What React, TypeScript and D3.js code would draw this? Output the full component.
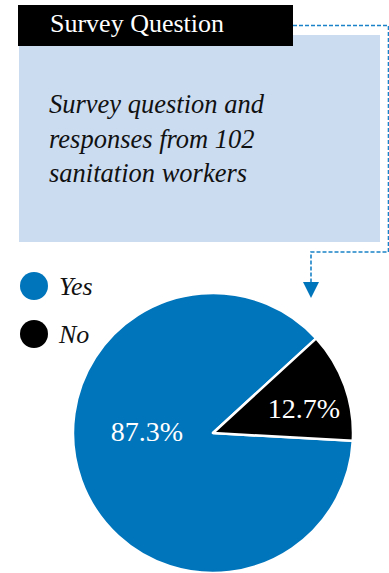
import React from "react";
import * as d3 from "d3";

const categories = ["Yes", "No"];
const values = [87.3, 12.7];
const labels = ["87.3%", "12.7%"];
const colors = ["#0175bb", "#000000"];
const title = "Survey Question";
const subtitleLines = ["Survey question and", "responses from 102", "sanitation workers"];

const FONT = "Liberation Serif, Times New Roman, Times, serif";

export default function App() {
  const cx = 213;
  const cy = 433;
  const r = 140;
  const start = (93.2 * Math.PI) / 180;
  const pie = d3
    .pie<number>()
    .sort(null)
    .startAngle(start)
    .endAngle(start + 2 * Math.PI)
    .value((d) => d);
  const arcs = pie(values);
  const arc = d3.arc<d3.PieArcDatum<number>>().innerRadius(0).outerRadius(r);
  const labelPos = [
    [-66, 8],
    [91, -15],
  ];

  return (
    <svg
      width={389}
      height={573}
      style={{ position: "absolute", left: 0, top: 0, background: "#fff" }}
    >
      <rect x={19} y={35} width={361} height={207} fill="#cbdcf1" />
      <rect x={18} y={5} width={275} height={41} fill="#000" />
      <text x={50} y={32} fill="#fff" style={{ fontFamily: FONT }} fontSize={26}>
        {title}
      </text>
      {subtitleLines.map((t, i) => (
        <text
          key={i}
          x={49}
          y={113 + i * 34.5}
          fill="#111"
          style={{ fontFamily: FONT, fontStyle: "italic" }}
          fontSize={26.5}
        >
          {t}
        </text>
      ))}
      <path
        d="M293,25.5 H388.5 V252 H311 V283"
        fill="none"
        stroke="#1a82c8"
        strokeWidth={1.6}
        strokeDasharray="4,2"
      />
      <path d="M303,282 L319,282 L311,298 Z" fill="#0175bb" />
      {categories.map((c, i) => (
        <g key={c}>
          <circle cx={34} cy={286 + i * 48} r={14} fill={colors[i]} />
          <text
            x={59}
            y={295 + i * 48}
            style={{ fontFamily: FONT, fontStyle: "italic" }}
            fontSize={26}
            fill="#111"
          >
            {c}
          </text>
        </g>
      ))}
      <g transform={`translate(${cx},${cy})`}>
        {arcs.map((a, i) => (
          <path
            key={i}
            d={arc(a) || ""}
            fill={colors[i]}
            stroke="#fff"
            strokeWidth={2.5}
            strokeLinejoin="round"
          />
        ))}
        {arcs.map((a, i) => (
          <text
            key={"l" + i}
            x={labelPos[i][0]}
            y={labelPos[i][1]}
            textAnchor="middle"
            fill="#fff"
            style={{ fontFamily: FONT }}
            fontSize={28}
          >
            {labels[i]}
          </text>
        ))}
      </g>
    </svg>
  );
}
